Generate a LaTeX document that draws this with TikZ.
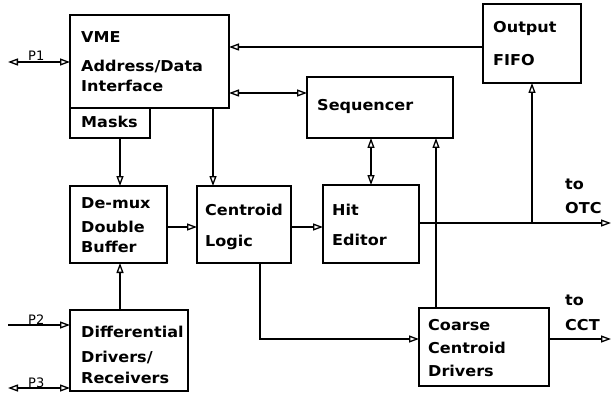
\documentclass[tikz,border=0pt]{standalone}
\usepackage{fontspec}
\newfontfamily\dfont[FakeStretch=1.07]{DejaVu Sans}
\newfontfamily\pfont{DejaVu Sans}
\usetikzlibrary{arrows.meta}
\begin{document}
\begin{tikzpicture}[x=1pt,y=-1pt,
  box/.style={draw, line width=1.2pt, inner sep=0pt, outer sep=0pt, anchor=north west},
  txt/.style={anchor=base west, inner sep=0pt, font=\dfont\bfseries\fontsize{15}{16}\selectfont},
  plab/.style={anchor=base west, inner sep=0pt, font=\pfont\fontsize{13}{13}\selectfont},
  wire/.style={line width=1.2pt},
  tip/.style={wire, -{Triangle[open,length=10pt,width=7pt,line width=1.3pt]}},
  dtip/.style={wire, {Triangle[open,length=10pt,width=7pt,line width=1.3pt]}-{Triangle[open,length=10pt,width=7pt,line width=1.3pt]}}]
\useasboundingbox (0,0) rectangle (612,406);
% boxes
\node[box, minimum width=159pt, minimum height=93pt] (vme) at (70,15) {};
\node[box, minimum width=80pt, minimum height=30pt] (masks) at (70,108) {};
\node[box, minimum width=98pt, minimum height=79pt] (fifo) at (483,4) {};
\node[box, minimum width=146pt, minimum height=61pt] (seq) at (307,77) {};
\node[box, minimum width=97pt, minimum height=77pt] (demux) at (70,186) {};
\node[box, minimum width=94pt, minimum height=77pt] (cent) at (197,186) {};
\node[box, minimum width=96pt, minimum height=78pt] (hit) at (323,185) {};
\node[box, minimum width=118pt, minimum height=81pt] (diff) at (70,310) {};
\node[box, minimum width=130pt, minimum height=78pt] (coarse) at (419,308) {};
% texts
\node[txt] (t1) at (81,43) {VME};
\node[txt] (t2) at (81,72) {Address/Data};
\node[txt] (t3) at (81,92) {Interface};
\node[txt] (t4) at (81,128) {Masks};
\node[txt] (t5) at (493,33) {Output};
\node[txt] (t6) at (493,66) {FIFO};
\node[txt] (t7) at (317,111) {Sequencer};
\node[txt] (t8) at (81,208) {De-mux};
\node[txt] (t9) at (81,232) {Double};
\node[txt] (t10) at (81,252) {Buffer};
\node[txt] (t11) at (205,215) {Centroid};
\node[txt] (t12) at (205,246) {Logic};
\node[txt] (t13) at (332,215) {Hit};
\node[txt] (t14) at (332,245) {Editor};
\node[txt] (t15) at (81,337) {Differential};
\node[txt] (t16) at (81,362) {Drivers/};
\node[txt] (t17) at (81,383) {Receivers};
\node[txt] (t18) at (428,330) {Coarse};
\node[txt] (t19) at (428,353) {Centroid};
\node[txt] (t20) at (428,376) {Drivers};
\node[txt] (t21) at (565,189) {to};
\node[txt] (t22) at (565,213) {OTC};
\node[txt] (t23) at (565,305) {to};
\node[txt] (t24) at (565,330) {CCT};
\node[plab] (l1) at (28,61) {P1};
\node[plab] (l2) at (28,324) {P2};
\node[plab] (l3) at (28,387) {P3};
% coordinates
\coordinate (p1) at (8,62);
\coordinate (p2) at (8,325);
\coordinate (p3) at (8,388);
\coordinate (otc) at (611,223);
\coordinate (cct) at (611,339);
\coordinate (ff) at ([yshift=-3.5pt]fifo.west);
\coordinate (vs) at ([yshift=-31.5pt]vme.east);
\coordinate (mk) at ([xshift=10pt]masks.south);
\coordinate (vc) at ([xshift=143pt]vme.south west);
\coordinate (dm) at ([yshift=-2.5pt]demux.east);
\coordinate (ce) at ([yshift=-2.5pt]cent.east);
\coordinate (he) at ([yshift=1pt]hit.east);
\coordinate (cn) at ([xshift=17pt]coarse.north west);
\coordinate (cs) at ([xshift=63pt]cent.south west);
\coordinate (cw) at ([yshift=8pt]coarse.west);
\coordinate (dd) at ([xshift=50pt]diff.north west);
% connectors
\draw[dtip] (p1) -- (p1 -| vme.west);
\draw[tip] (ff) -- (ff -| vme.east);
\draw[dtip] (vs) -- (vs -| seq.west);
\draw[tip] (mk) -- (mk |- demux.north);
\draw[tip] (vc) -- (vc |- cent.north);
\draw[tip] (dm) -- (dm -| cent.west);
\draw[tip] (ce) -- (ce -| hit.west);
\draw[tip] (he) -- (otc);
\draw[tip] (fifo.south |- otc) -- (fifo.south);
\draw[dtip] (hit.north |- seq.south) -- (hit.north);
\draw[tip] (cn) -- (cn |- seq.south);
\draw[tip] (cs) |- (cw);
\draw[tip] (cw -| coarse.east) -- (cct);
\draw[tip] (dd) -- (dd |- demux.south);
\draw[tip] (p2) -- (p2 -| diff.west);
\draw[dtip] (p3) -- (p3 -| diff.west);
\end{tikzpicture}
\end{document}
